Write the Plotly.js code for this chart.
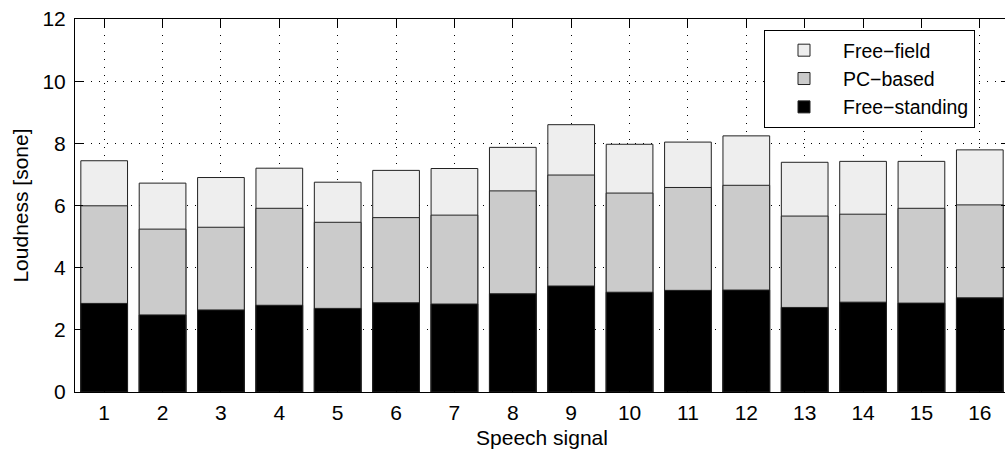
<!DOCTYPE html>
<html>
<head>
<meta charset="utf-8">
<script src="https://cdn.plot.ly/plotly-3.0.1.min.js"></script>
<style>
html, body { margin:0; padding:0; overflow:hidden; background:#fff; }
#chart { width:1010px; height:453px; }
</style>
</head>
<body>
<div id="chart"></div>
<script>
const signals = [1,2,3,4,5,6,7,8,9,10,11,12,13,14,15,16];
const freeField = [7.44,6.72,6.90,7.20,6.75,7.13,7.19,7.87,8.60,7.97,8.04,8.24,7.39,7.42,7.42,7.79];
const pcBased = [5.99,5.24,5.30,5.91,5.46,5.61,5.69,6.47,6.98,6.40,6.58,6.65,5.66,5.72,5.91,6.02];
const freeStanding = [2.85,2.48,2.64,2.79,2.69,2.87,2.83,3.16,3.41,3.21,3.27,3.28,2.72,2.89,2.86,3.03];
const seriesNames = ['Free\u2212field','PC\u2212based','Free\u2212standing'];
const yTicks = [0,2,4,6,8,10,12];

const font = {family:'"Liberation Sans", Arial, Helvetica, sans-serif', size:21, color:'#000'};
const legendFont = {family:'"Liberation Sans", Arial, Helvetica, sans-serif', size:19.5, color:'#000'};
const outline = {color:'#222', width:1};

const traces = [
  {type:'bar', x:signals, y:freeField, name:seriesNames[0], width:0.8,
   marker:{color:'#eeeeee', line:outline}},
  {type:'bar', x:signals, y:pcBased, name:seriesNames[1], width:0.8,
   marker:{color:'#cbcbcb', line:outline}},
  {type:'bar', x:signals, y:freeStanding, name:seriesNames[2], width:0.8,
   marker:{color:'#000000', line:outline}}
];

const layout = {
  width:1010, height:453,
  margin:{l:75, r:1, t:19, b:61},
  paper_bgcolor:'#fff', plot_bgcolor:'#fff',
  font:font,
  barmode:'overlay',
  showlegend:true,
  legend:{x:0.7377, y:0.9705, xanchor:'left', yanchor:'top',
          bgcolor:'#fff', bordercolor:'#000', borderwidth:1,
          font:legendFont, traceorder:'normal', itemwidth:68},
  xaxis:{range:[0.5,16.5], tickmode:'array', tickvals:signals, ticktext:signals.map(String),
         ticks:'inside', ticklen:8, tickcolor:'#000', showline:true, linecolor:'#000', linewidth:1,
         mirror:'allticks', showgrid:true, gridcolor:'#000', gridwidth:1, griddash:'1px,7px',
         zeroline:false, tickfont:font, ticklabelstandoff:2,
         title:{text:'Speech signal', font:font, standoff:7}},
  yaxis:{range:[0,12], tickmode:'array', tickvals:yTicks, ticktext:yTicks.map(String),
         ticks:'inside', ticklen:8, tickcolor:'#000', showline:true, linecolor:'#000', linewidth:1,
         mirror:'allticks', showgrid:true, gridcolor:'#000', gridwidth:1, griddash:'1px,7px',
         zeroline:false, tickfont:font, ticklabelstandoff:4,
         title:{text:'Loudness [sone]', font:font, standoff:8}}
};

Plotly.newPlot('chart', traces, layout, {displayModeBar:false, staticPlot:true});
</script>
</body>
</html>
